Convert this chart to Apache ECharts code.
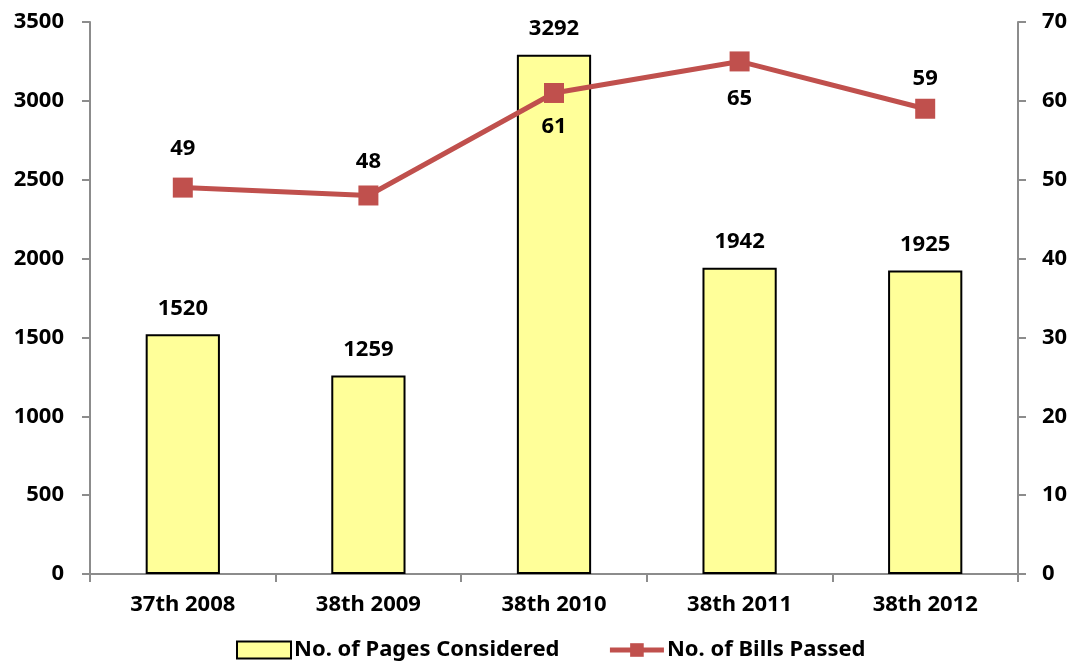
<!DOCTYPE html>
<html>
<head>
<meta charset="utf-8">
<script src="https://cdn.jsdelivr.net/npm/echarts@6/dist/echarts.min.js"></script>
<style>
	html, body { margin: 0; padding: 0; background: #fff; }
	#chart { width: 1078px; height: 664px; }
</style>
</head>
<body>
<div id="chart"></div>
<script>
// categories and values
var categories = ['37th 2008', '38th 2009', '38th 2010', '38th 2011', '38th 2012'];
var pagesConsidered = [1520, 1259, 3292, 1942, 1925];
var billsPassed = [49, 48, 61, 65, 59];
// where each bills label sits relative to its marker (placed by hand in the original)
var billsLabelPos = ['top', 'top', 'bottom', 'bottom', 'top'];
var billsLabelGap = [18, 13, 13, 16, 9];

var axisGray = '#8c8c8c';
var fontFam = '"Noto Sans", "Open Sans", sans-serif';
var labelFont = { color: '#000', fontWeight: 'bold', fontSize: 22, fontFamily: fontFam };

var chart = echarts.init(document.getElementById('chart'));

function plain(v) { return String(v); }

var option = {
	animation: false,
	textStyle: { fontFamily: fontFam },
	grid: { left: 90, right: 60, top: 22, bottom: 90 },
	legend: {
		bottom: -2,
		left: 231,
		itemGap: 48,
		itemWidth: 54,
		itemHeight: 17,
		textStyle: { fontFamily: fontFam, fontWeight: 'bold', fontSize: 22, color: '#000', padding: [0, 0, 0, -2] },
		data: [
			{ name: 'No. of Pages Considered', icon: 'rect' },
			{ name: 'No. of Bills Passed', lineStyle: { width: 5 } }
		]
	},
	xAxis: {
		type: 'category',
		data: categories,
		boundaryGap: true,
		axisLine: { lineStyle: { color: axisGray, width: 2 } },
		axisTick: { show: true, length: 8, lineStyle: { color: axisGray, width: 2 } },
		axisLabel: Object.assign({ margin: 20 }, labelFont)
	},
	yAxis: [{
		type: 'value',
		min: 0,
		max: 3500,
		interval: 500,
		splitLine: { show: false },
		axisLine: { show: true, lineStyle: { color: axisGray, width: 2 } },
		axisTick: { show: true, length: 8, lineStyle: { color: axisGray, width: 2 } },
		axisLabel: Object.assign({ margin: 26, formatter: plain }, labelFont)
	}, {
		type: 'value',
		min: 0,
		max: 70,
		interval: 10,
		position: 'right',
		splitLine: { show: false },
		axisLine: { show: true, lineStyle: { color: axisGray, width: 2 } },
		axisTick: { show: true, length: 8, lineStyle: { color: axisGray, width: 2 } },
		axisLabel: Object.assign({ margin: 24, formatter: plain }, labelFont)
	}],
	series: [{
		name: 'No. of Pages Considered',
		type: 'bar',
		yAxisIndex: 0,
		barWidth: '40%',
		data: pagesConsidered,
		itemStyle: { color: '#ffff99', borderColor: '#000', borderWidth: 2 },
		label: Object.assign({ show: true, position: 'top', distance: 15 }, labelFont)
	}, {
		name: 'No. of Bills Passed',
		type: 'line',
		yAxisIndex: 1,
		data: billsPassed.map(function (v, i) {
			return { value: v, label: { position: billsLabelPos[i], distance: billsLabelGap[i] } };
		}),
		symbol: 'rect',
		symbolSize: 20,
		lineStyle: { color: '#c0504d', width: 5 },
		itemStyle: { color: '#c0504d' },
		label: Object.assign({ show: true }, labelFont),
		z: 5
	}]
};

chart.setOption(option);
</script>
</body>
</html>
